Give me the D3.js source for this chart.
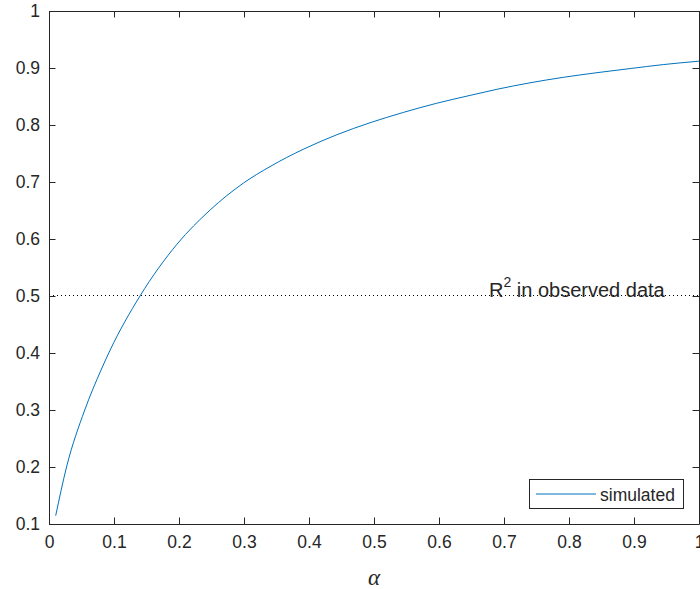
<!DOCTYPE html>
<html>
<head>
<meta charset="utf-8">
<script src="https://cdn.jsdelivr.net/npm/d3@7"></script>
<style>
html,body{margin:0;padding:0;background:#fff;}
svg text{font-family:"Liberation Sans",Arial,Helvetica,sans-serif;fill:#262626;}
</style>
</head>
<body>
<svg id="chart" width="700" height="589"></svg>
<script>
// Data
const alphaValues = [0.0103, 0.027, 0.055, 0.08, 0.094, 0.14, 0.197, 0.248, 0.299, 0.34, 0.391, 0.443, 0.494, 0.545, 0.596, 0.648, 0.689, 0.74, 0.791, 0.843, 0.894, 0.945, 1.0];
const simulatedR2 = [0.1146, 0.2, 0.3, 0.37, 0.405, 0.5, 0.591, 0.651, 0.698, 0.727, 0.7573, 0.783, 0.804, 0.822, 0.838, 0.852, 0.8626, 0.874, 0.8836, 0.8918, 0.899, 0.906, 0.912];
const observedR2 = 0.5;
const xTicks = [0, 0.1, 0.2, 0.3, 0.4, 0.5, 0.6, 0.7, 0.8, 0.9, 1];
const yTicks = [0.1, 0.2, 0.3, 0.4, 0.5, 0.6, 0.7, 0.8, 0.9, 1];
const seriesName = "simulated";
const xLabel = "\u03B1";

const svg = d3.select("#chart");
const L = 49, R = 699, T = 11, B = 524;
const x = d3.scaleLinear().domain([0, 1]).range([L, R]);
const y = d3.scaleLinear().domain([0.1, 1]).range([B, T]);
const axisColor = "#262626";
const fmt = d => String(d);

// dotted reference line
svg.append("line")
  .attr("x1", x(0)).attr("x2", x(1))
  .attr("y1", y(observedR2) - 0.5).attr("y2", y(observedR2) - 0.5)
  .attr("stroke", "#000").attr("stroke-width", 1).attr("stroke-dasharray", "1,3");

// curve
const data = alphaValues.map((a, i) => ({a, v: simulatedR2[i]}));
svg.append("path").datum(data)
  .attr("fill", "none").attr("stroke", "#0072BD").attr("stroke-width", 1)
  .attr("d", d3.line().x(d => x(d.a)).y(d => y(d.v)).curve(d3.curveMonotoneX));

// annotation text
const ann = svg.append("text").attr("x", 489).attr("y", 297).attr("font-size", 20);
ann.append("tspan").text("R");
ann.append("tspan").attr("dy", -10).attr("font-size", 14).text("2");
ann.append("tspan").attr("dy", 10).text(" in observed data");

// axes (MATLAB box style: ticks inward on all sides)
const tl = 6.5;
const gBottom = svg.append("g").attr("transform", `translate(0,${B})`)
  .call(d3.axisBottom(x).tickValues(xTicks).tickFormat(fmt).tickSizeInner(-tl).tickSizeOuter(0).tickPadding(12));
const gTop = svg.append("g").attr("transform", `translate(0,${T})`)
  .call(d3.axisTop(x).tickValues(xTicks).tickFormat("").tickSizeInner(-tl).tickSizeOuter(0));
const gLeft = svg.append("g").attr("transform", `translate(${L},0)`)
  .call(d3.axisLeft(y).tickValues(yTicks).tickFormat(fmt).tickSizeInner(-tl).tickSizeOuter(0).tickPadding(9));
const gRight = svg.append("g").attr("transform", `translate(${R},0)`)
  .call(d3.axisRight(y).tickValues(yTicks).tickFormat("").tickSizeInner(-tl).tickSizeOuter(0));
[gBottom, gTop, gLeft, gRight].forEach(g => {
  g.selectAll("path,line").attr("stroke", axisColor);
  g.selectAll("text").attr("font-size", 17.5).attr("font-family", "Liberation Sans, Arial, sans-serif").attr("fill", axisColor);
});

// x label
svg.append("text").attr("x", (L + R) / 2).attr("y", 585).attr("text-anchor", "middle")
  .style("font-family", "'Liberation Serif','Times New Roman',serif").style("font-style", "italic")
  .attr("font-size", 23).text(xLabel);

// legend
const lg = svg.append("g");
lg.append("rect").attr("x", 529.5).attr("y", 479.5).attr("width", 154).attr("height", 29)
  .attr("fill", "#fff").attr("stroke", axisColor).attr("stroke-width", 1);
lg.append("line").attr("x1", 536).attr("x2", 596).attr("y1", 494).attr("y2", 494)
  .attr("stroke", "#0072BD").attr("stroke-width", 1);
lg.append("text").attr("x", 600).attr("y", 500.5).attr("font-size", 17.5).text(seriesName);
</script>
</body>
</html>
